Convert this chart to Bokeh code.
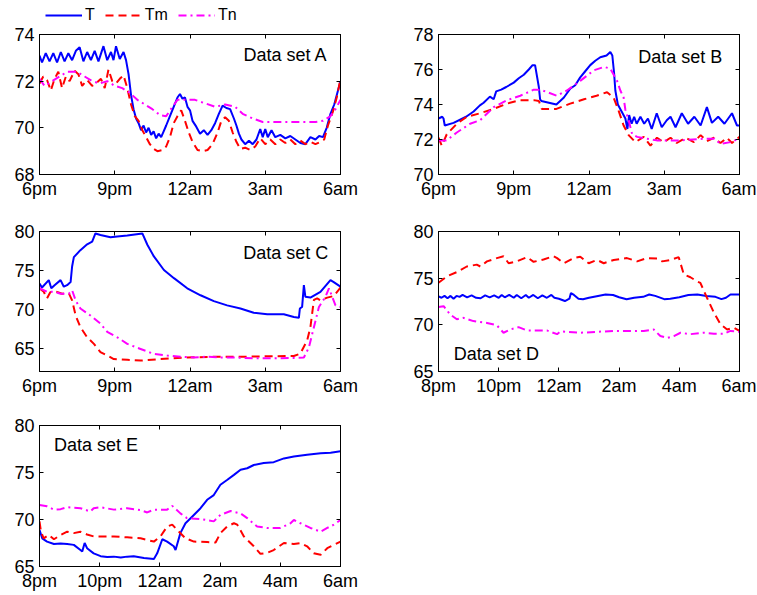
from bokeh.plotting import figure
from bokeh.models import (Range1d, LinearAxis, FixedTicker, Legend, LegendItem, Label,
                          CustomLabelingPolicy)
from bokeh.layouts import column, row
from bokeh.embed import file_html
from bokeh.resources import INLINE

FONT = "Liberation Sans"
BLUE, RED, MAG = "#0000ff", "#ff0000", "#ff00ff"

# ---------------- data (time in hours, >24 = next morning; values in deg F) --------------
A_T = [(18.0,73.1),(18.1,72.8),(18.25,73.2),(18.4,72.85),(18.55,73.2),(18.7,72.8),(18.85,73.25),(19.0,72.85),
       (19.15,73.2),(19.3,72.9),(19.45,73.3),(19.6,73.45),(19.75,72.85),(19.9,73.25),(20.05,72.9),(20.2,73.3),
       (20.35,72.85),(20.55,73.5),(20.7,72.9),(20.85,73.25),(20.95,72.9),(21.05,73.5),(21.2,72.95),(21.35,73.25),
       (21.45,72.9),(21.55,72.3),(21.65,71.4),(21.75,70.8),(21.85,70.4),(21.95,70.2),(22.05,69.9),(22.15,70.1),
       (22.25,69.8),(22.35,70.0),(22.45,69.7),(22.55,69.85),(22.65,69.55),(22.75,69.75),(22.85,69.6),(22.95,69.85),
       (23.05,70.1),(23.2,70.5),(23.35,70.9),(23.5,71.3),(23.6,71.45),(23.7,71.25),(23.8,71.3),(23.9,70.9),
       (24.0,70.75),(24.1,70.3),(24.25,70.05),(24.4,69.75),(24.55,69.9),(24.7,69.7),(24.85,69.9),(25.0,70.2),
       (25.15,70.6),(25.3,70.95),(25.45,70.85),(25.6,70.8),(25.75,70.4),(25.85,70.1),(25.95,69.75),(26.05,69.5),
       (26.2,69.3),(26.35,69.45),(26.5,69.3),(26.65,69.5),(26.8,69.95),(26.9,69.6),(27.0,69.95),(27.1,69.6),
       (27.25,69.9),(27.4,69.6),(27.6,69.7),(27.8,69.55),(28.0,69.65),(28.2,69.5),(28.4,69.35),(28.6,69.3),
       (28.8,69.6),(29.0,69.5),(29.15,69.65),(29.3,69.6),(29.45,70.0),(29.6,70.6),(29.75,71.0),(29.9,71.6),(30.0,72.0)]
A_Tm = [(18.0,71.9),(18.15,72.2),(18.3,72.05),(18.45,71.6),(18.6,72.1),(18.75,72.4),(18.9,71.7),(19.05,72.2),
        (19.2,72.0),(19.4,72.45),(19.55,72.3),(19.7,71.8),(19.9,72.05),(20.1,71.8),(20.3,71.95),(20.45,72.1),
        (20.6,71.7),(20.75,72.5),(20.9,72.0),(21.05,71.9),(21.2,72.1),(21.35,72.25),(21.5,71.7),(21.65,71.0),
        (21.8,70.5),(21.95,70.3),(22.1,69.9),(22.25,69.6),(22.4,69.3),(22.55,69.1),(22.7,69.0),(22.9,69.05),
        (23.05,69.2),(23.2,69.6),(23.35,70.2),(23.5,70.5),(23.65,70.75),(23.8,70.3),(23.95,69.8),(24.1,69.4),
        (24.3,69.05),(24.5,69.0),(24.7,69.05),(24.9,69.3),(25.1,69.8),(25.25,70.3),(25.4,70.45),(25.55,70.3),
        (25.7,69.8),(25.85,69.4),(26.0,69.1),(26.2,69.15),(26.4,69.05),(26.6,69.2),(26.8,69.55),(27.0,69.3),
        (27.2,69.5),(27.4,69.3),(27.6,69.5),(27.8,69.35),(28.0,69.5),(28.2,69.3),(28.4,69.45),(28.6,69.3),
        (28.8,69.4),(29.0,69.3),(29.2,69.4),(29.35,69.5),(29.5,70.1),(29.7,70.7),(29.85,71.3),(30.0,72.1)]
A_Tn = [(18.0,72.1),(18.2,71.8),(18.5,72.0),(18.8,72.2),(19.1,72.4),(19.5,72.4),(19.8,72.2),(20.1,72.0),
        (20.4,71.9),(20.7,72.0),(21.0,71.8),(21.3,71.7),(21.6,71.5),(21.9,71.2),(22.2,71.0),(22.5,70.8),
        (22.8,70.55),(23.05,70.5),(23.3,70.9),(23.5,71.2),(23.8,71.2),(24.2,71.2),(24.6,71.05),(25.0,70.9),
        (25.4,71.0),(25.8,70.9),(26.1,70.6),(26.5,70.4),(26.9,70.25),(27.5,70.25),(28.0,70.25),(28.5,70.25),
        (29.0,70.25),(29.3,70.3),(29.6,70.5),(29.8,70.8),(30.0,71.2)]

B_T = [(18.0,73.2),(18.15,73.3),(18.2,73.2),(18.25,72.8),(18.6,72.95),(19.1,73.3),(19.4,73.6),(19.65,73.95),
       (19.8,74.1),(20.05,74.45),(20.2,74.3),(20.3,74.75),(20.5,74.85),(20.7,75.0),(21.0,75.25),(21.2,75.5),
       (21.4,75.7),(21.6,76.0),(21.75,76.25),(21.85,76.25),(22.0,75.0),(22.05,74.3),(22.1,74.2),(22.7,74.0),
       (23.0,74.4),(23.25,74.9),(23.45,75.1),(23.65,75.55),(23.85,75.9),(24.05,76.25),(24.25,76.5),(24.45,76.7),
       (24.7,76.8),(24.85,77.0),(24.93,76.8),(25.0,75.8),(25.05,74.8),(25.15,74.0),(25.3,73.6),(25.45,73.2),
       (25.53,72.6),(25.6,73.4),(25.7,72.9),(25.8,73.3),(25.9,72.9),(26.05,73.3),(26.2,72.9),(26.35,73.2),
       (26.5,72.6),(26.7,73.5),(26.9,72.7),(27.1,73.1),(27.25,73.3),(27.45,72.7),(27.7,73.5),(27.95,72.9),
       (28.2,73.3),(28.45,72.8),(28.7,73.85),(28.9,72.95),(29.15,73.3),(29.4,72.9),(29.7,73.5),(29.9,72.8),(30.0,72.8)]
B_Tm = [(18.0,72.1),(18.13,71.65),(18.33,72.3),(18.73,72.9),(19.13,73.3),(19.66,73.5),(20.2,73.75),(20.73,74.05),
        (21.26,74.25),(21.8,74.25),(22.0,74.2),(22.12,73.75),(22.7,73.75),(23.25,74.05),(23.8,74.3),(24.3,74.5),
        (24.72,74.7),(24.98,74.4),(25.18,73.65),(25.38,72.8),(25.58,72.25),(25.85,71.85),(26.18,72.15),(26.45,71.65),
        (26.71,72.1),(26.98,71.85),(27.25,72.1),(27.5,71.8),(27.85,72.1),(28.18,71.85),(28.45,72.25),(28.7,71.9),
        (28.98,72.1),(29.24,71.8),(29.5,72.1),(29.7,71.8),(30.0,72.15)]
B_Tn = [(18.0,71.95),(18.33,71.95),(18.73,72.4),(19.26,72.9),(19.66,73.1),(20.2,73.85),(20.73,74.25),(21.26,74.5),
        (21.8,74.85),(22.06,74.85),(22.72,74.5),(23.12,74.8),(23.65,75.35),(24.19,75.95),(24.6,76.15),(24.85,76.05),
        (25.12,75.35),(25.25,74.8),(25.38,74.4),(25.45,73.7),(25.58,73.1),(25.72,72.3),(25.92,72.15),(26.3,72.05),
        (26.7,71.95),(27.6,71.95),(28.6,72.05),(29.0,72.05),(29.24,71.75),(29.64,71.85),(30.0,72.05)]

C_T = [(18.0,73.3),(18.1,72.8),(18.37,73.75),(18.47,72.7),(18.6,73.1),(18.84,73.75),(18.97,72.9),(19.1,73.1),
       (19.24,73.5),(19.3,75.5),(19.37,76.7),(19.63,77.6),(19.9,78.35),(20.1,78.7),(20.23,79.75),(20.43,79.55),
       (20.83,79.25),(21.1,79.35),(21.5,79.5),(22.1,79.75),(22.3,78.3),(22.56,76.8),(22.96,75.05),(23.36,74.0),
       (23.89,72.7),(24.42,71.8),(24.95,71.05),(25.48,70.5),(26.01,70.1),(26.54,69.55),(27.08,69.35),(27.74,69.35),
       (28.14,69.0),(28.34,68.9),(28.38,70.1),(28.47,70.3),(28.54,73.1),(28.6,71.6),(28.8,71.5),(29.2,72.25),
       (29.6,73.75),(29.73,73.5),(30.0,72.9)]
C_Tm = [(18.0,72.7),(18.17,72.25),(18.3,71.4),(18.43,72.2),(18.64,72.3),(18.9,72.0),(19.17,72.05),(19.3,71.15),
        (19.44,69.2),(19.63,67.7),(19.9,66.4),(20.17,65.55),(20.43,64.5),(20.7,64.05),(20.96,63.6),(21.5,63.5),
        (22.03,63.4),(22.82,63.6),(23.89,63.8),(24.95,63.9),(26.01,63.9),(27.08,63.95),(28.14,64.0),(28.4,64.3),
        (28.67,66.0),(28.8,67.7),(28.94,71.2),(29.07,71.4),(29.2,71.15),(29.47,71.5),(29.73,71.7),(30.0,72.8)]
C_Tn = [(18.0,72.7),(18.3,72.25),(18.57,72.25),(18.84,72.0),(19.17,72.0),(19.3,72.45),(19.44,71.15),(19.63,70.1),
        (20.03,69.2),(20.43,68.15),(20.7,67.1),(21.1,66.4),(21.5,65.55),(22.03,64.9),(22.56,64.25),(23.09,64.05),
        (23.62,63.9),(24.15,63.8),(24.68,63.9),(25.22,63.8),(25.75,63.8),(26.54,63.7),(27.34,63.7),(28.14,63.75),
        (28.54,63.8),(28.74,65.1),(28.94,67.7),(29.14,70.3),(29.4,71.6),(29.54,72.7),(29.67,71.6),(29.8,70.5),(30.0,70.3)]

D_T = [(20.0,73.05),(20.1,72.9),(20.2,73.1),(20.3,72.85),(20.4,73.1),(20.5,72.8),(20.6,73.1),(20.7,73.0),
       (20.8,73.2),(20.95,72.95),(21.1,73.15),(21.25,72.9),(21.4,72.85),(21.55,73.15),(21.7,72.95),(21.85,73.15),
       (22.0,72.9),(22.1,73.2),(22.2,72.95),(22.35,73.2),(22.5,72.9),(22.6,73.2),(22.75,72.85),(22.9,73.2),
       (23.0,72.9),(23.15,73.2),(23.3,72.85),(23.45,73.15),(23.6,72.9),(23.75,73.2),(23.85,72.9),(24.0,72.8),
       (24.2,72.55),(24.35,72.8),(24.4,73.4),(24.5,73.2),(24.65,72.8),(24.8,72.75),(25.0,72.9),(25.3,73.1),
       (25.55,73.25),(25.8,73.2),(26.0,72.95),(26.25,72.75),(26.5,72.9),(26.8,73.0),(27.0,73.25),(27.2,73.1),
       (27.5,72.75),(27.7,72.8),(28.0,72.95),(28.3,73.2),(28.6,73.25),(28.9,73.1),(29.2,73.0),(29.4,72.75),
       (29.55,72.9),(29.7,73.25),(30.0,73.25)]
D_Tm = [(20.0,74.5),(20.28,75.2),(20.61,75.65),(20.94,76.25),(21.27,76.45),(21.39,76.25),(21.61,76.8),(21.94,77.15),
        (22.16,77.35),(22.33,76.6),(22.6,76.8),(22.94,77.25),(23.16,76.75),(23.49,77.0),(23.82,77.35),(23.94,77.15),
        (24.16,76.6),(24.49,77.15),(24.71,77.3),(24.99,76.6),(25.27,76.95),(25.49,76.6),(25.82,76.95),(26.26,77.15),
        (26.6,76.8),(26.93,77.15),(27.26,77.1),(27.43,76.8),(27.7,76.95),(27.98,77.25),(28.04,76.6),(28.15,75.4),
        (28.37,75.1),(28.59,74.65),(28.7,74.5),(28.92,72.9),(29.15,71.3),(29.37,70.05),(29.59,69.5),(29.81,69.7),(30.0,69.35)]
D_Tn = [(20.0,71.9),(20.17,72.0),(20.39,71.1),(20.61,70.6),(20.83,70.75),(21.16,70.4),(21.61,70.2),(21.94,69.95),
        (22.16,69.15),(22.38,69.5),(22.66,69.75),(22.94,69.4),(23.6,69.4),(23.94,69.0),(24.05,69.3),(24.71,69.15),
        (25.82,69.35),(26.82,69.35),(27.15,69.5),(27.37,68.8),(27.6,68.6),(27.82,68.8),(28.04,69.15),(28.37,69.0),
        (28.81,69.15),(29.15,69.05),(29.48,69.05),(29.7,69.35),(30.0,69.25)]

E_T = [(20.0,68.9),(20.09,68.0),(20.25,67.65),(20.48,67.4),(20.7,67.45),(20.92,67.4),(21.14,67.3),(21.36,66.75),
       (21.42,66.6),(21.5,67.5),(21.58,66.95),(21.8,66.4),(22.03,66.1),(22.25,66.0),(22.47,66.05),(22.7,65.95),
       (22.91,66.05),(23.13,66.1),(23.47,65.9),(23.8,65.8),(23.91,66.4),(24.08,67.9),(24.24,67.65),(24.46,67.15),
       (24.52,66.75),(24.68,68.55),(24.85,69.6),(25.07,70.3),(25.35,71.2),(25.57,72.1),(25.79,72.6),(26.01,73.7),
       (26.23,74.2),(26.46,74.75),(26.68,75.3),(26.9,75.45),(27.12,75.8),(27.45,76.0),(27.78,76.1),(28.12,76.5),
       (28.45,76.7),(28.89,76.9),(29.34,77.05),(29.67,77.1),(30.0,77.25)]
E_Tm = [(20.0,69.8),(20.05,68.7),(20.14,68.0),(20.31,68.35),(20.48,67.9),(20.7,68.35),(20.92,68.7),(21.14,68.55),
        (21.36,68.7),(21.58,68.4),(21.8,68.2),(22.03,68.2),(22.47,68.2),(22.91,68.1),(23.36,68.0),(23.8,67.65),
        (24.02,68.2),(24.24,69.25),(24.41,69.45),(24.57,68.9),(24.85,68.0),(25.13,67.65),(25.57,67.6),(25.85,67.55),
        (26.01,68.55),(26.23,69.25),(26.46,69.6),(26.57,69.45),(26.79,68.2),(27.12,67.15),(27.34,66.35),(27.56,66.45),
        (27.78,66.75),(28.12,67.5),(28.45,67.4),(28.67,67.5),(28.89,67.15),(29.11,66.4),(29.34,66.25),(29.56,66.95),
        (29.78,67.3),(30.0,67.65)]
E_Tn = [(20.0,71.55),(20.25,71.4),(20.48,71.05),(20.7,71.1),(20.92,71.3),(21.36,71.2),(21.69,70.85),(21.8,71.2),
        (22.03,71.3),(22.47,71.05),(22.91,71.2),(23.36,71.0),(23.58,70.75),(23.8,71.05),(24.24,71.05),(24.41,71.45),
        (24.68,70.65),(24.9,70.15),(25.35,70.05),(25.79,69.8),(26.01,70.5),(26.35,70.9),(26.68,70.65),(26.9,70.15),
        (27.23,69.25),(27.56,69.1),(28.0,69.1),(28.34,69.6),(28.45,69.95),(28.67,69.6),(29.0,69.1),(29.34,68.7),
        (29.56,69.1),(29.78,69.45),(30.0,69.95)]

TICKS_3H = [18, 21, 24, 27, 30]
LABELS_3H = ["6pm", "9pm", "12am", "3am", "6am"]
TICKS_2H = [20, 22, 24, 26, 28, 30]
LABELS_2H = ["8pm", "10pm", "12am", "2am", "4am", "6am"]
SERIES_NAMES = ["T", "Tm", "Tn"]
COLORS = [BLUE, RED, MAG]
DASHES = ["solid", "8 5", "8 4 2 4"]

NO_LABELS = "const n = indices.size; for (let i = 0; i < n; i++) { indices.unset(i) } return indices"


def style_axis(ax, show_labels=True, standoff=4):
    ax.major_tick_in = 4
    ax.major_tick_out = 0
    ax.minor_tick_line_color = None
    ax.axis_line_color = "black"
    ax.major_tick_line_color = "black"
    ax.major_label_text_font = FONT
    ax.major_label_text_color = "black"
    if show_labels:
        ax.major_label_text_font_size = "18px"
        ax.major_label_standoff = standoff
    else:
        ax.major_label_text_font_size = "1px"
        ax.major_label_standoff = 0
        ax.major_label_policy = CustomLabelingPolicy(code=NO_LABELS)


def xy(data):
    return [d[0] for d in data], [d[1] for d in data]


def panel(w, h, bl, br, bt, bb, xr, yr, xticks, xlabels, yticks, series, name, lx, ly):
    p = figure(width=w, height=h, x_range=Range1d(*xr), y_range=Range1d(*yr),
               output_backend="svg", toolbar_location=None,
               min_border_left=bl, min_border_right=br, min_border_top=bt, min_border_bottom=bb)
    p.grid.visible = False
    p.outline_line_color = "black"
    p.background_fill_color = "white"
    p.border_fill_color = "white"
    p.xaxis.ticker = FixedTicker(ticks=xticks)
    p.xaxis.major_label_overrides = {t: l for t, l in zip(xticks, xlabels)}
    p.yaxis.ticker = FixedTicker(ticks=yticks)
    style_axis(p.xaxis[0], True, 4)
    style_axis(p.yaxis[0], True, 5)
    top = LinearAxis(ticker=FixedTicker(ticks=xticks))
    right = LinearAxis(ticker=FixedTicker(ticks=yticks))
    style_axis(top, False)
    style_axis(right, False)
    p.add_layout(top, "above")
    p.add_layout(right, "right")
    for data, col, dash in zip(series, COLORS, DASHES):
        xs, ys = xy(data)
        p.line(xs, ys, line_color=col, line_width=2, line_dash=dash)
    p.add_layout(Label(x=lx, y=ly, text=name, text_font=FONT, text_font_size="18px",
                       text_baseline="middle", text_align="left", text_color="black"))
    return p


# legend strip above the first row: its own small figure, no axes; it carries the
# Data set A series (outside its ranges, so only the legend shows)
pL = figure(width=399, height=22, output_backend="svg", toolbar_location=None,
            x_axis_type=None, y_axis_type=None, min_border=0,
            x_range=Range1d(0, 1), y_range=Range1d(0, 1))
pL.outline_line_color = None
pL.grid.visible = False
leg_rends = []
for data, c, d in zip([A_T, A_Tm, A_Tn], COLORS, DASHES):
    xs, ys = xy(data)
    leg_rends.append(pL.line(xs, ys, line_color=c, line_width=2, line_dash=d))
legend = Legend(items=[LegendItem(label=n, renderers=[r]) for n, r in zip(SERIES_NAMES, leg_rends)],
                location=(6, -2), orientation="horizontal", glyph_width=37, glyph_height=18,
                label_height=18, label_width=0, label_standoff=3, spacing=10, padding=0, margin=0,
                border_line_alpha=0, background_fill_alpha=0,
                label_text_font=FONT, label_text_font_size="16px", label_text_color="black")
pL.add_layout(legend, "center")

# frames: A/B y 34-174, C/D y 231-371, E y 425-567 ; x 39-340 and 438-739 (page pixels)
pA = panel(399, 179, 39, 59, 12, 27, (18, 30), (68, 74), TICKS_3H, LABELS_3H, [68, 70, 72, 74],
           [A_T, A_Tm, A_Tn], "Data set A", 26.13, 73.14)
pB = panel(357, 179, 39, 17, 12, 27, (18, 30), (70, 78), TICKS_3H, LABELS_3H, [70, 72, 74, 76, 78],
           [B_T, B_Tm, B_Tn], "Data set B", 25.96, 76.7)
pC = panel(399, 197, 39, 59, 30, 27, (18, 30), (62, 80), TICKS_3H, LABELS_3H, [65, 70, 75, 80],
           [C_T, C_Tm, C_Tn], "Data set C", 26.12, 77.3)
pD = panel(357, 197, 39, 17, 30, 27, (20, 30), (65, 80), TICKS_2H, LABELS_2H, [65, 70, 75, 80],
           [D_T, D_Tm, D_Tn], "Data set D", 20.51, 66.9)
pE = panel(399, 195, 39, 59, 27, 26, (20, 30), (65, 80), TICKS_2H, LABELS_2H, [65, 70, 75, 80],
           [E_T, E_Tm, E_Tn], "Data set E", 20.48, 77.9)

layout = column(pL, row(pA, pB), row(pC, pD), pE)
open("out.html", "w").write(file_html(layout, INLINE))
